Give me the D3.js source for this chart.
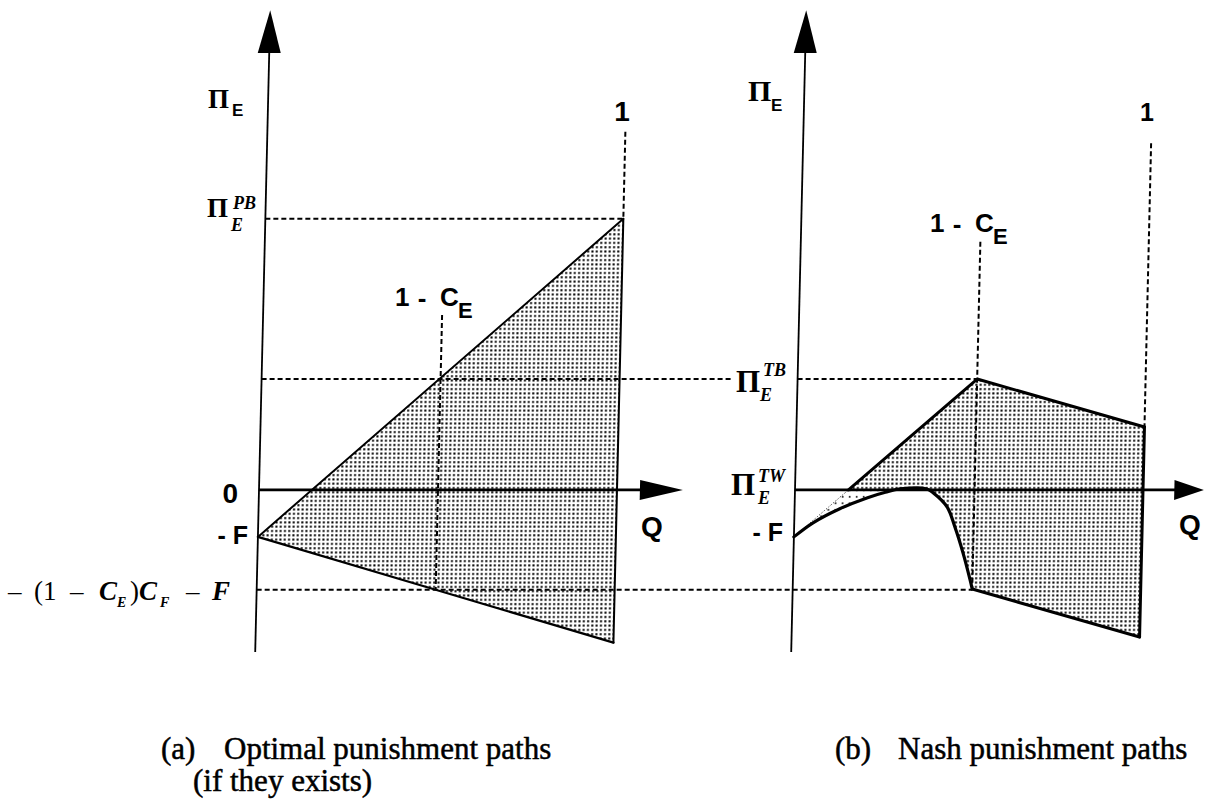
<!DOCTYPE html>
<html>
<head>
<meta charset="utf-8">
<script src="https://cdn.jsdelivr.net/npm/d3@7"></script>
<style>
  body { margin: 0; background: #fff; }
  svg { display: block; }
</style>
</head>
<body>
<svg id="chart" width="1217" height="804"></svg>
<script>
// Profit levels, in units of the entry cost F (Pi_E = -F at Q = 0)
const profitF = -1;
const profitPB = 5.77;       // Pi_E^PB
const profitTB = 2.36;       // Pi_E^TB
const profitLowA = -2.125;   // -(1 - C_E) C_F - F
// Panel (a): optimal punishment paths
const kinkA = 0.5;           // 1 - C_E
const panelAUpper = [[0, -1], [1, 5.77]];
const panelALower = [[0, -1], [0.5, -2.125], [1, -3.25]];
// Panel (b): Nash punishment paths
const kinkB = 0.516;         // 1 - C_E
const panelBUpper = [[0, -1], [0.516, 2.36], [1, 1.34]];
const panelBCurve = [[0, -1], [0.054, -0.70], [0.130, -0.40], [0.207, -0.17], [0.260, -0.05],
                     [0.302, 0.02], [0.379, 0.02], [0.397, -0.06], [0.438, -0.36], [0.462, -0.79],
                     [0.487, -1.34], [0.509, -1.91], [0.516, -2.11]];
const panelBLowerTail = [[0.516, -2.11], [1, -3.13]];
// Guide-line extents (Q from, Q to, Pi from, Pi to)
const guidesA = [[0, 1, 5.77, 5.77], [0, 1.316, 2.36, 2.36], [0.5, 0.5, 3.72, -2.125], [1, 1, 7.62, 5.77]];
const guidesB = [[0, 0.516, 2.36, 2.36], [0.516, 0.516, 5.28, -2.11], [1, 1, 7.38, 1.34]];
const captionA = ["(a)", "Optimal punishment paths", "(if they exists)"];
const captionB = ["(b)", "Nash punishment paths"];

const svg = d3.select("#chart");
const yS = d3.scaleLinear().domain([-3.45, 9.32]).range([652, 52]);
const xA = d3.scaleLinear().domain([0, 1]).range([259, 617]);
const xB = d3.scaleLinear().domain([0, 1]).range([795, 1143]);

// stipple fills
const defs = svg.append("defs");
const dense = defs.append("pattern").attr("id", "dense").attr("patternUnits", "userSpaceOnUse")
  .attr("width", 4.3).attr("height", 4.3);
dense.append("rect").attr("width", 4.3).attr("height", 4.3).attr("fill", "#fff");
dense.append("rect").attr("x", 1.1).attr("y", 1.1).attr("width", 2).attr("height", 2).attr("fill", "#000");
const sparse = defs.append("pattern").attr("id", "sparse").attr("patternUnits", "userSpaceOnUse")
  .attr("width", 7).attr("height", 6.5);
sparse.append("rect").attr("width", 7).attr("height", 6.5).attr("fill", "#fff");
sparse.append("rect").attr("x", 2).attr("y", 2).attr("width", 1.6).attr("height", 1.6).attr("fill", "#000");

// the drawing leans slightly to the right going up
const g = svg.append("g")
  .attr("transform", `translate(0,${yS(0)}) skewX(-1.34) translate(0,${-yS(0)})`);

const lineA = d3.line().x(d => xA(d[0])).y(d => yS(d[1]));
const lineB = d3.line().x(d => xB(d[0])).y(d => yS(d[1]));
const curveB = d3.line().x(d => xB(d[0])).y(d => yS(d[1])).curve(d3.curveCatmullRom.alpha(0.5));
const join = (a, b) => a + b.replace(/^M/, "L");

// panel (a) region
g.append("path")
  .attr("d", lineA(panelAUpper.concat(panelALower.slice().reverse())) + "Z")
  .attr("fill", "url(#dense)");

// panel (b) region
const bFill = join(join(lineB(panelBUpper), lineB(panelBLowerTail.slice().reverse())),
                   curveB(panelBCurve.slice().reverse())) + "Z";
g.append("path").attr("d", bFill).attr("fill", "url(#dense)");

// lighter sliver between the rising line and the curve below Q axis
const u0 = panelBUpper[0], u1 = panelBUpper[1];
const qCross = u0[0] + (0 - u0[1]) * (u1[0] - u0[0]) / (u1[1] - u0[1]);
const curveLeft = panelBCurve.filter(d => d[0] <= 0.31);
const light = join(lineB([u0, [qCross, 0], [curveLeft[curveLeft.length - 1][0], 0]]),
                   curveB(curveLeft.slice().reverse())) + "Z";
g.append("path").attr("d", light).attr("fill", "url(#sparse)");

// dashed guides
const dash = (x0, y0, x1, y1) => g.append("line")
  .attr("x1", x0).attr("y1", y0).attr("x2", x1).attr("y2", y1)
  .attr("stroke", "#000").attr("stroke-width", 2).attr("stroke-dasharray", "5,3");
guidesA.forEach(d => dash(xA(d[0]), yS(d[2]), xA(d[1]), yS(d[3])));
guidesB.forEach(d => dash(xB(d[0]), yS(d[2]), xB(d[1]), yS(d[3])));
dash(xA(0), yS(profitLowA), xB(kinkB), yS(profitLowA));

// outlines, panel (a)
const stroke = (d, w) => g.append("path").attr("d", d).attr("fill", "none")
  .attr("stroke", "#000").attr("stroke-width", w).attr("stroke-linejoin", "round").attr("stroke-linecap", "round");
stroke(lineA(panelAUpper), 2);
stroke(lineA(panelALower), 2.3);
stroke(lineA([panelAUpper[1], panelALower[2]]), 2);

// outlines, panel (b)
g.append("path").attr("d", lineB([u0, [qCross, 0]])).attr("fill", "none")
  .attr("stroke", "#333").attr("stroke-width", 0.9).attr("stroke-dasharray", "1.2,1.8");
stroke(lineB([[qCross, 0], panelBUpper[1], panelBUpper[2]]), 3);
stroke(lineB([panelBUpper[2], panelBLowerTail[1]]), 3);
stroke(lineB(panelBLowerTail), 3);
stroke(curveB(panelBCurve), 3.2);

// axes
const axis = (xs) => {
  g.append("line").attr("x1", xs(0)).attr("x2", xs(0)).attr("y1", yS(-3.45)).attr("y2", yS(9.3))
    .attr("stroke", "#000").attr("stroke-width", 1.8);
  const tipY = yS(10.21), baseY = yS(9.3), cx = xs(0);
  g.append("path").attr("d", `M${cx},${tipY}L${cx - 11.5},${baseY}L${cx + 11.5},${baseY}Z`).attr("fill", "#000");
};
axis(xA);
axis(xB);
const qAxis = (xs, baseQ, tipQ) => {
  g.append("line").attr("x1", xs(0)).attr("x2", xs(baseQ) + 2).attr("y1", yS(0)).attr("y2", yS(0))
    .attr("stroke", "#000").attr("stroke-width", 2.8);
  const y0 = yS(0);
  g.append("path").attr("d", `M${xs(baseQ)},${y0 - 10}L${xs(tipQ)},${y0}L${xs(baseQ)},${y0 + 10}Z`).attr("fill", "#000");
};
qAxis(xA, 1.064, 1.184);
qAxis(xB, 1.09, 1.175);

// ---- labels ----
const serif = "'Liberation Serif', 'Times New Roman', serif";
const sans = "'Liberation Sans', Arial, sans-serif";
const txt = (x, y, s, size, opts = {}) => svg.append("text")
  .attr("x", x).attr("y", y).text(s)
  .attr("font-family", opts.family || sans).attr("font-size", size)
  .attr("font-weight", opts.weight || "bold").attr("font-style", opts.style || "normal")
  .attr("text-anchor", opts.anchor || "start")
  .attr("dominant-baseline", opts.baseline || "auto")
  .attr("fill", "#000");

// Pi_E axis titles
txt(208, 108, "\u03A0", 27, { family: serif });
txt(232, 116, "E", 17);
txt(748, 101, "\u03A0", 30, { family: serif });
txt(771, 111, "E", 17);

// Pi with super- and subscript
const piLabel = (x, y, size, sup, supX, supY, sub, subX, subY) => {
  txt(x, y, "\u03A0", size, { family: serif });
  txt(supX, supY, sup, 18, { family: serif, style: "italic" });
  txt(subX, subY, sub, 18, { family: serif, style: "italic" });
};
piLabel(207, 217, 27, "PB", 233, 209, "E", 231, 231);
piLabel(736, 392, 31, "TB", 763, 376, "E", 760, 401);
piLabel(731, 495, 31, "TW", 758, 482, "E", 758, 504);

// value labels on the axes
txt(238, 493, "0", 28, { anchor: "end", baseline: "central" });
txt(248, 535, "- F", 25, { anchor: "end", baseline: "central" });
txt(783, 532, "- F", 25, { anchor: "end", baseline: "central" });
txt(641, 526, "Q", 28, { baseline: "central" });
txt(1179, 524, "Q", 28, { baseline: "central" });
txt(622, 111, "1", 28, { anchor: "middle", baseline: "central" });
txt(1147, 112, "1", 25, { anchor: "middle", baseline: "central" });

// 1 - C_E markers
const oneMinusC = (x, y) => {
  txt(x - 48, y, "1", 26, { baseline: "central" });
  txt(x - 21, y + 1, "-", 26, { anchor: "middle", baseline: "central" });
  txt(x - 3, y, "C", 26, { baseline: "central" });
  txt(x + 15, y + 13, "E", 22, { baseline: "central" });
};
oneMinusC(443, 297);
oneMinusC(978, 223);

// -(1 - C_E) C_F - F, laid out piece by piece
const lowBase = 600;
const lowParts = [
  [8, "\u2013", false, 27], [34, "(1", false, 27], [70, "\u2013", false, 27],
  [99, "C", true, 27], [130, ")", false, 27], [139, "C", true, 27], [186, "\u2013", false, 27], [212, "F", true, 27]
];
lowParts.forEach(([x, s, it, size]) =>
  txt(x, lowBase, s, size, { family: serif, style: it ? "italic" : "normal", weight: it ? "bold" : "normal" }));
txt(117, lowBase + 7, "E", 14, { family: serif, style: "italic" });
txt(160, lowBase + 7, "F", 14, { family: serif, style: "italic" });

// captions
const cap = (x, y, s) => txt(x, y, s, 31, { family: serif, weight: "normal" }).attr("stroke", "#000").attr("stroke-width", 0.5);
cap(161, 759, captionA[0]);
cap(224, 759, captionA[1]);
cap(193, 791, captionA[2]);
cap(835, 759, captionB[0]);
cap(898, 759, captionB[1]);
</script>
</body>
</html>
